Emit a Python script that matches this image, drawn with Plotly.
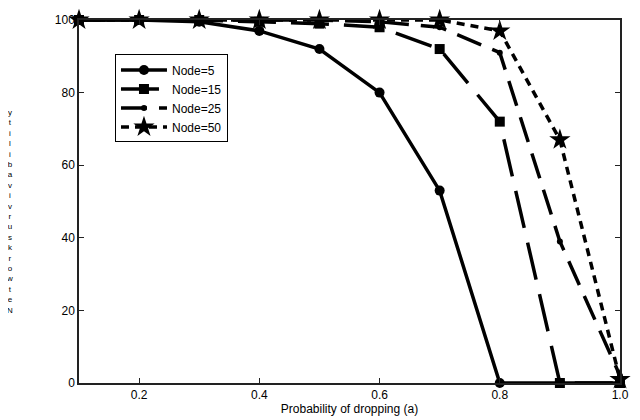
import plotly.graph_objects as go

x_vals = [0.1, 0.2, 0.3, 0.4, 0.5, 0.6, 0.7, 0.8, 0.9, 1.0]
node5 = [100, 100, 99.5, 97, 92, 80, 53, 0, 0, 0]
node15 = [100, 100, 100, 99.5, 99, 98, 92, 72, 0, 0]
node25 = [100, 100, 100, 100, 100, 99.5, 98, 91, 39, 2]
node50 = [100, 100, 100, 100, 100, 100, 100, 97, 67, 1]
series_names = ["Node=5", "Node=15", "Node=25", "Node=50"]
x_ticks = [0.2, 0.4, 0.6, 0.8, 1.0]
x_tick_labels = ["0.2", "0.4", "0.6", "0.8", "1.0"]
y_ticks = [0, 20, 40, 60, 80, 100]
x_title = "Probability of dropping (a)"
y_title = "Network survivability"

styles = [
    dict(dash="solid", symbol="circle", size=10),
    dict(dash="38px,15px", symbol="square", size=10),
    dict(dash="26px,12px", symbol="circle", size=6),
    dict(dash="8px,6px", symbol="star", size=16),
]

fig = go.Figure()
for name, ys, st in zip(series_names, [node5, node15, node25, node50], styles):
    fig.add_trace(go.Scatter(
        x=x_vals, y=ys, name=name, mode="lines+markers",
        line=dict(color="black", width=3.5, dash=st["dash"]),
        marker=dict(symbol=st["symbol"], size=st["size"], color="black"),
        cliponaxis=False,
    ))

font_family = "Liberation Sans, Arial, sans-serif"

# y-axis title drawn as upright characters stacked bottom-to-top, as in the reference
stacked = "<br>".join(ch for ch in reversed(y_title) if ch != " ")

fig.update_layout(
    width=640, height=420,
    margin=dict(l=71, r=28, t=5, b=45),
    paper_bgcolor="white", plot_bgcolor="white",
    font=dict(family=font_family, size=12, color="black"),
    showlegend=True,
    legend=dict(
        x=0.0665, y=0.905, xanchor="left", yanchor="top",
        bordercolor="black", borderwidth=1, bgcolor="white",
        font=dict(size=12, family=font_family), tracegroupgap=0,
        itemwidth=46,
    ),
    annotations=[dict(
        text=stacked, xref="paper", yref="paper", x=-0.129, y=0.472,
        showarrow=False, font=dict(size=8, color="black", family=font_family),
        xanchor="center", yanchor="middle", align="center",
    )],
)
fig.update_xaxes(
    range=[0.1, 1.0], tickvals=x_ticks, ticktext=x_tick_labels,
    showgrid=False, zeroline=False, showline=True, linecolor="#222", linewidth=1.5,
    mirror="ticks", ticks="inside", ticklen=5, tickcolor="#222",
    title=dict(text=x_title, font=dict(size=12), standoff=3),
)
fig.update_yaxes(
    range=[0, 100], tickvals=y_ticks,
    showgrid=False, zeroline=False, showline=True, linecolor="#222", linewidth=1.5,
    mirror="ticks", ticks="inside", ticklen=5, tickcolor="#222",
)

fig.write_html("out.html")
